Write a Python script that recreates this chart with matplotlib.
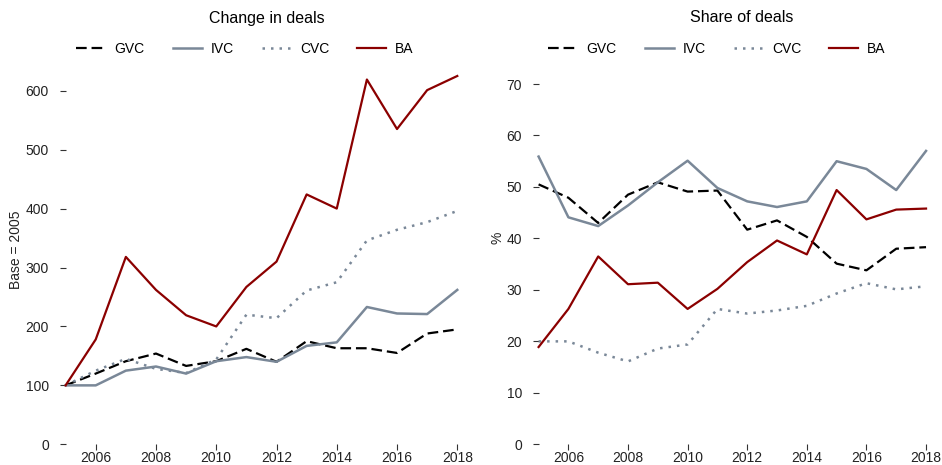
import matplotlib
matplotlib.use("Agg")
import matplotlib.pyplot as plt
from matplotlib.lines import Line2D

plt.rcParams['font.family'] = ['Liberation Sans', 'DejaVu Sans']

years = list(range(2005, 2019))

# Change in deals (base 2005 = 100)
chg_gvc = [100, 120, 141, 154, 133, 141, 162, 140, 175, 163, 163, 155, 188, 195]
chg_ivc = [100, 100, 125, 132, 120, 141, 148, 140, 167, 173, 233, 222, 221, 262]
chg_cvc = [100, 125, 145, 128, 121, 144, 220, 214, 261, 275, 346, 364, 377, 396]
chg_ba = [100, 178, 318, 262, 219, 200, 267, 310, 424, 400, 619, 535, 601, 625]

# Share of deals (%)
sh_gvc = [50.5, 47.9, 43.0, 48.5, 50.9, 49.1, 49.3, 41.7, 43.5, 40.3, 35.1, 33.8, 38.0, 38.3]
sh_ivc = [55.9, 44.1, 42.4, 46.4, 50.9, 55.1, 49.8, 47.2, 46.1, 47.2, 55.0, 53.5, 49.4, 57.0]
sh_cvc = [20.0, 20.0, 17.8, 16.1, 18.6, 19.4, 26.3, 25.4, 26.0, 26.9, 29.3, 31.3, 30.1, 30.7]
sh_ba = [18.9, 26.3, 36.5, 31.1, 31.4, 26.3, 30.2, 35.4, 39.6, 36.9, 49.4, 43.7, 45.6, 45.8]

series_names = ["GVC", "IVC", "CVC", "BA"]
xticks = [2006, 2008, 2010, 2012, 2014, 2016, 2018]
left_yticks = [0, 100, 200, 300, 400, 500, 600]
right_yticks = [0, 10, 20, 30, 40, 50, 60, 70]

styles = {
    "GVC": dict(color="black", linestyle=(0, (4.8, 2.2)), lw=1.6),
    "IVC": dict(color="#7a8898", linestyle="-", lw=1.8),
    "CVC": dict(color="#7a8898", linestyle=(0, (1, 2.4)), lw=1.8),
    "BA": dict(color="#8b0000", linestyle="-", lw=1.6),
}

W, H = 942, 465
fig = plt.figure(figsize=(W / 100, H / 100), dpi=100)

def setup(ax, yticks):
    for s in ax.spines.values():
        s.set_visible(False)
    ax.set_xticks(xticks)
    ax.set_yticks(yticks)
    ax.tick_params(axis="both", length=4, width=0.8, color="#333333",
                   labelsize=10, labelcolor="#222222")
    ax.tick_params(axis="y", pad=8)
    ax.tick_params(axis="x", pad=0.5)
    ax.set_xlim(2005, 2018.15)

ax1 = fig.add_axes([65.6 / W, (H - 444.3) / H, 396.2 / W, 640 * 0.5893 / H])
ax2 = fig.add_axes([538.6 / W, (H - 444.3) / H, 391.9 / W, 72 * 5.147 / H])

for name, vals in zip(series_names, [chg_gvc, chg_ivc, chg_cvc, chg_ba]):
    ax1.plot(years, vals, **styles[name], clip_on=False)
for name, vals in zip(series_names, [sh_gvc, sh_ivc, sh_cvc, sh_ba]):
    ax2.plot(years, vals, **styles[name], clip_on=False)

setup(ax1, left_yticks)
setup(ax2, right_yticks)
ax1.set_ylim(0, 640)
ax2.set_ylim(0, 72)

fig.text(16 / W, 1 - 250 / H, "Base = 2005", rotation=90, ha="center", va="center",
         fontsize=10, color="#222222")
fig.text(497 / W, 1 - 238 / H, "%", rotation=90, ha="center", va="center",
         fontsize=10, color="#222222")

fig.text(267 / W, 1 - 18 / H, "Change in deals", ha="center", va="center", fontsize=11.5)
fig.text(742 / W, 1 - 18 / H, "Share of deals", ha="center", va="center", fontsize=11.5)

handles = [Line2D([], [], **styles[n]) for n in series_names]
for cx in (245, 717):
    fig.legend(handles, series_names, loc="center", bbox_to_anchor=(cx / W, 1 - 49 / H),
               ncol=4, frameon=False, fontsize=10, handlelength=2.1,
               handletextpad=0.65, columnspacing=2.0, borderpad=0, borderaxespad=0)

fig.savefig("out.png", dpi=100)
